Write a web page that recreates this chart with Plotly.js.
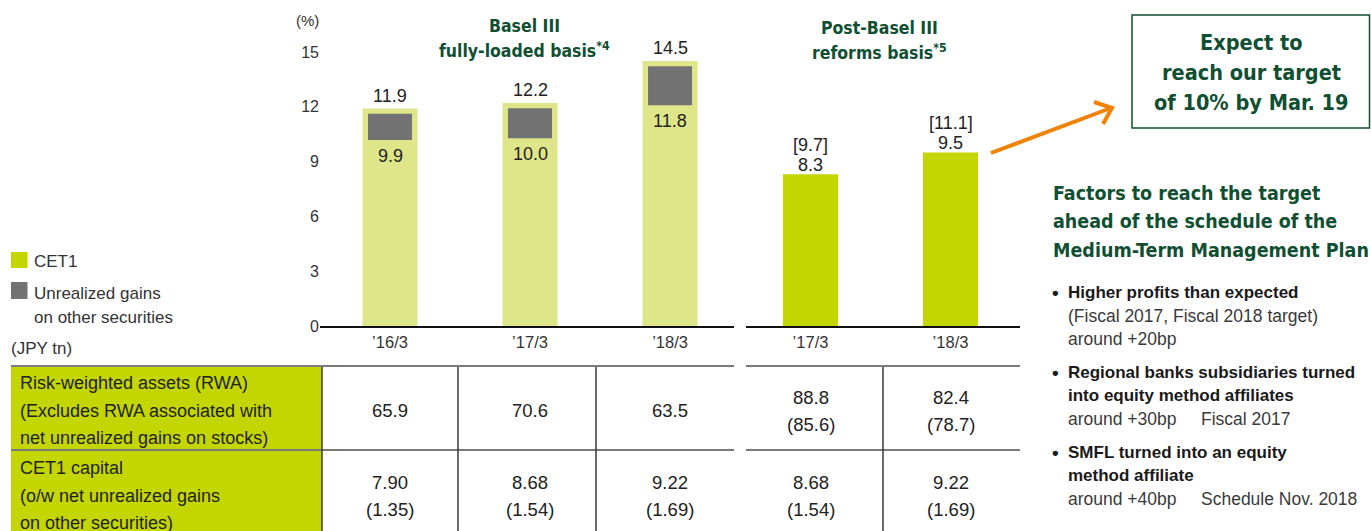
<!DOCTYPE html>
<html>
<head>
<meta charset="utf-8">
<script src="https://cdn.plot.ly/plotly-3.0.1.min.js"></script>
<style>html,body{margin:0;padding:0;background:#fff;}#chart{width:1371px;height:531px;}</style>
</head>
<body>
<div id="chart"></div>
<script>
// ---------- data ----------
const baselCats = ['\u201916/3', '\u201917/3', '\u201918/3'];
const postCats = ['\u201917/3', '\u201918/3'];
const baselTotal = [11.9, 12.2, 14.5];      // CET1 ratio incl. unrealized gains
const baselExUnrl = [9.9, 10.0, 11.8];      // CET1 ratio excl. unrealized gains
const postRatio = [8.3, 9.5];               // post-Basel III reforms basis
const postRatioAlt = [9.7, 11.1];           // bracketed values
const yTicks = [0, 3, 6, 9, 12, 15];

const rowLabels = [
  ['Risk-weighted assets (RWA)', '(Excludes RWA associated with', 'net unrealized gains on stocks)'],
  ['CET1 capital', '(o/w net unrealized gains', 'on other securities)']
];
const rwaMain = [65.9, 70.6, 63.5, 88.8, 82.4];
const rwaAlt = [null, null, null, 85.6, 78.7];
const cet1Capital = [7.90, 8.68, 9.22, 8.68, 9.22];
const cet1Unrealized = [1.35, 1.54, 1.69, 1.54, 1.69];

// ---------- styling ----------
const W = 1371, H = 531;
const px = x => x / W;
const py = y => 1 - y / H;
const SANS = '"Liberation Sans", Arial, sans-serif';
const NARROW = '"DejaVu Sans Condensed", "Liberation Sans Narrow", Arial, sans-serif';
const LIGHT_GREEN = '#dfe689';
const GREEN = '#c4d600';
const GRAY = '#727272';
const DARK_GREEN = '#104f31';
const ORANGE = '#ef8200';
const pad = 0.28;

const traces = [
  {type: 'bar', x: baselCats, y: baselTotal, xaxis: 'x', yaxis: 'y', width: 0.393,
   marker: {color: LIGHT_GREEN}, hoverinfo: 'skip', showlegend: false},
  {type: 'bar', x: baselCats, base: baselExUnrl.map(v => v + pad),
   y: baselTotal.map((t, i) => t - baselExUnrl[i] - 2 * pad), xaxis: 'x', yaxis: 'y', width: 0.314,
   marker: {color: GRAY}, hoverinfo: 'skip', showlegend: false},
  {type: 'bar', x: postCats, y: postRatio, xaxis: 'x2', yaxis: 'y', width: 0.393,
   marker: {color: GREEN}, hoverinfo: 'skip', showlegend: false}
];

const anns = [];
const shapes = [];
function txt(text, x, y, o) {
  const a = {xref: 'paper', yref: 'paper', x: px(x), y: py(y), text: text, showarrow: false,
    xanchor: 'left', yanchor: 'middle', font: {family: SANS, size: 17, color: '#333'}};
  anns.push(Object.assign(a, o || {}));
}
const LABEL_FONT = {family: SANS, size: 18, color: '#222'};

// bar labels
baselTotal.forEach((v, i) => {
  anns.push({xref: 'x', yref: 'y', x: i, y: v, text: v.toFixed(1), showarrow: false,
    yanchor: 'bottom', yshift: 1, font: LABEL_FONT});
  anns.push({xref: 'x', yref: 'y', x: i, y: baselExUnrl[i], text: baselExUnrl[i].toFixed(1), showarrow: false,
    yanchor: 'top', yshift: 1, font: LABEL_FONT});
});
postRatio.forEach((v, i) => {
  anns.push({xref: 'x2', yref: 'y', x: i, y: v, text: v.toFixed(1), showarrow: false,
    yanchor: 'bottom', yshift: -3, font: LABEL_FONT});
  anns.push({xref: 'x2', yref: 'y', x: i, y: v, text: '[' + postRatioAlt[i].toFixed(1) + ']', showarrow: false,
    yanchor: 'bottom', yshift: 17, font: LABEL_FONT});
});

// section titles
const TITLE_FONT = {family: NARROW, size: 17.5, color: DARK_GREEN, weight: 'bold'};
txt('<b>Basel III</b>', 524, 26, {xanchor: 'center', font: TITLE_FONT});
txt('<b>fully-loaded basis<sup>*4</sup></b>', 524, 50, {xanchor: 'center', font: TITLE_FONT});
txt('<b>Post-Basel III</b>', 879, 28, {xanchor: 'center', font: TITLE_FONT});
txt('<b>reforms basis<sup>*5</sup></b>', 879, 52, {xanchor: 'center', font: TITLE_FONT});
txt('(%)', 307, 21, {xanchor: 'center', font: {family: SANS, size: 15, color: '#333'}});

// legend
shapes.push({type: 'rect', xref: 'paper', yref: 'paper', x0: px(11), x1: px(27.5), y0: py(268), y1: py(252),
  fillcolor: GREEN, line: {width: 0}});
shapes.push({type: 'rect', xref: 'paper', yref: 'paper', x0: px(11), x1: px(27.5), y0: py(299), y1: py(282),
  fillcolor: GRAY, line: {width: 0}});
txt('CET1', 32, 261);
txt('Unrealized gains', 32, 293);
txt('on other securities', 32, 317);
txt('(JPY tn)', 9, 348);

// table
shapes.push({type: 'rect', xref: 'paper', yref: 'paper', x0: px(11), x1: px(322), y0: py(540), y1: py(366),
  fillcolor: GREEN, line: {width: 0}, layer: 'below'});
[366, 450].forEach(y => {
  shapes.push({type: 'line', xref: 'paper', yref: 'paper', x0: px(11), x1: px(734), y0: py(y), y1: py(y),
    line: {color: '#7b7b7b', width: 2}});
  shapes.push({type: 'line', xref: 'paper', yref: 'paper', x0: px(746), x1: px(1020), y0: py(y), y1: py(y),
    line: {color: '#7b7b7b', width: 2}});
});
[322, 458, 596, 883].forEach(x => {
  shapes.push({type: 'line', xref: 'paper', yref: 'paper', x0: px(x), x1: px(x), y0: py(367), y1: py(540),
    line: {color: '#3a3a3a', width: 1.5}});
});
const rowCenters = [410.5, 495.5];
rowLabels.forEach((lines, r) => {
  lines.forEach((l, k) => txt(l, 18, rowCenters[r] + (k - 1) * 27.5, {font: {family: SANS, size: 18, color: '#222'}}));
});
function cellLines(r, i) {
  if (r === 0) {
    const out = [rwaMain[i].toFixed(1)];
    if (rwaAlt[i] !== null) out.push('(' + rwaAlt[i].toFixed(1) + ')');
    return out;
  }
  return [cet1Capital[i].toFixed(2), '(' + cet1Unrealized[i].toFixed(2) + ')'];
}
[0, 1].forEach(r => {
  for (let i = 0; i < 5; i++) {
    const lines = cellLines(r, i);
    const xr = i < 3 ? 'x' : 'x2';
    const xi = i < 3 ? i : i - 3;
    lines.forEach((l, k) => {
      const yc = rowCenters[r] + (k - (lines.length - 1) / 2) * 27;
      anns.push({xref: xr, yref: 'paper', x: xi, y: py(yc), text: l, showarrow: false,
        xanchor: 'center', yanchor: 'middle', font: {family: SANS, size: 18.5, color: '#222'}});
    });
  }
});

// target box + arrow
shapes.push({type: 'rect', xref: 'paper', yref: 'paper', x0: px(1132), x1: px(1369.5), y0: py(128), y1: py(15),
  line: {color: DARK_GREEN, width: 1.5}, fillcolor: 'rgba(0,0,0,0)'});
const BOX_FONT = {family: NARROW, size: 21.5, color: DARK_GREEN, weight: 'bold'};
['Expect to', 'reach our target', 'of 10% by Mar. 19'].forEach((l, k) =>
  txt('<b>' + l + '</b>', 1251, 43 + k * 29.5, {xanchor: 'center', font: BOX_FONT}));
shapes.push({type: 'path', xref: 'paper', yref: 'paper',
  path: 'M ' + px(991) + ',' + py(153) + ' L ' + px(1111) + ',' + py(108),
  line: {color: ORANGE, width: 4}});
shapes.push({type: 'path', xref: 'paper', yref: 'paper',
  path: 'M ' + px(1094) + ',' + py(102) + ' L ' + px(1112) + ',' + py(108) + ' L ' + px(1103) + ',' + py(124),
  line: {color: ORANGE, width: 4}});

// right panel
const HEAD_FONT = {family: NARROW, size: 19.5, color: DARK_GREEN, weight: 'bold'};
['Factors to reach the target', 'ahead of the schedule of the', 'Medium-Term Management Plan'].forEach((l, k) =>
  txt('<b>' + l + '</b>', 1051, 193 + k * 28.5, {font: HEAD_FONT}));
const BOLD = {family: SANS, size: 17, color: '#1a1a1a', weight: 'bold'};
const REG = {family: SANS, size: 17.5, color: '#3a3a3a'};
const bullets = [
  {y: 292, bold: ['Higher profits than expected'], reg: [['(Fiscal 2017, Fiscal 2018 target)'], ['around +20bp']]},
  {y: 372, bold: ['Regional banks subsidiaries turned', 'into equity method affiliates'], reg: [['around +30bp', 'Fiscal 2017']]},
  {y: 452, bold: ['SMFL turned into an equity', 'method affiliate'], reg: [['around +40bp', 'Schedule Nov. 2018']]}
];
bullets.forEach(b => {
  txt('<b>\u2022</b>', 1050, b.y, {font: {family: SANS, size: 19, color: '#1a1a1a', weight: 'bold'}});
  let y = b.y;
  b.bold.forEach(l => { txt('<b>' + l + '</b>', 1066, y, {font: BOLD}); y += 23.5; });
  b.reg.forEach(parts => {
    txt(parts[0], 1066, y, {font: REG});
    if (parts[1]) txt(parts[1], 1199, y, {font: REG});
    y += 23.5;
  });
});

const layout = {
  width: W, height: H,
  margin: {l: 0, r: 0, t: 0, b: 0},
  paper_bgcolor: '#fff', plot_bgcolor: 'rgba(0,0,0,0)',
  barmode: 'overlay', showlegend: false,
  xaxis: {domain: [px(320), px(734)], range: [-0.5, 2.457], anchor: 'y', showline: true,
    linecolor: '#111', linewidth: 2, ticks: '', showgrid: false, zeroline: false, fixedrange: true,
    tickfont: {family: SANS, size: 16.5, color: '#333'}},
  xaxis2: {domain: [px(746), px(1020)], range: [-0.4607, 1.4964], anchor: 'y', showline: true,
    linecolor: '#111', linewidth: 2, ticks: '', showgrid: false, zeroline: false, fixedrange: true,
    tickfont: {family: SANS, size: 16.5, color: '#333'}},
  yaxis: {domain: [py(326), 1], range: [0, 17.84], anchor: 'x', tickvals: yTicks,
    showgrid: false, zeroline: false, showline: false, ticks: '', fixedrange: true,
    tickfont: {family: SANS, size: 16, color: '#333'}},
  annotations: anns,
  shapes: shapes
};
Plotly.newPlot('chart', traces, layout, {displayModeBar: false, staticPlot: true});
</script>
</body>
</html>
